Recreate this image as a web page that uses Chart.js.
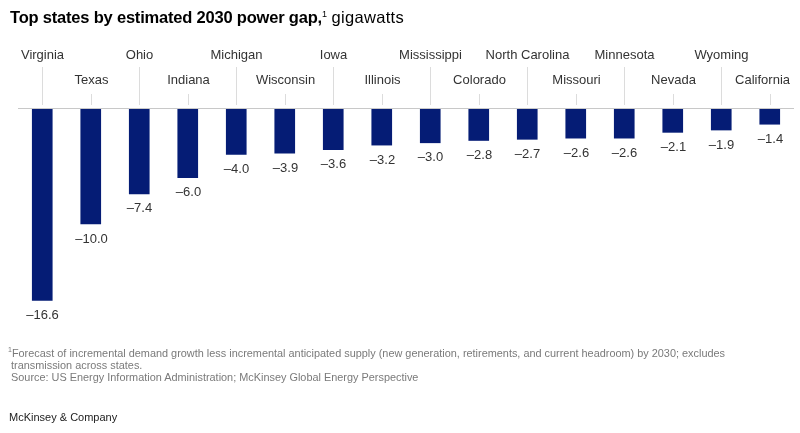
<!DOCTYPE html>
<html>
<head>
  <meta charset="utf-8">
  <title>Power gap</title>
  <script src="https://cdn.jsdelivr.net/npm/chart.js@4.4.0/dist/chart.umd.min.js"></script>
  <style>
    html, body {
      margin: 0;
      padding: 0;
      width: 800px;
      height: 433px;
      background: #fff;
      font-family: "Liberation Sans", Arial, sans-serif;
      overflow: hidden;
    }
    #wrap {
      position: relative;
      width: 800px;
      height: 433px;
    }
    #chart {
      position: absolute;
      left: 0;
      top: 0;
    }
    #title {
      position: absolute;
      left: 10px;
      top: 8px;
      font-size: 16.5px;
      color: #000;
      letter-spacing: -0.2px;
    }
    #title b { font-weight: bold; }
    #title span.g { letter-spacing: 0.3px; }
    #title sup { font-size: 9px; }
    #notes {
      position: absolute;
      left: 8px;
      top: 344px;
      font-size: 10.9px;
      line-height: 12.3px;
      color: #7a7a7a;
    }
    #brand {
      position: absolute;
      left: 9px;
      top: 411px;
      font-size: 11px;
      color: #222;
    }
  </style>
</head>
<body>
  <div id="wrap">
    <canvas id="chart" width="800" height="433"></canvas>
    <div id="title"><b>Top states by estimated 2030 power gap,</b><sup>1</sup><span class="g"> gigawatts</span></div>
    <div id="notes">
      <sup style="font-size:7px">1</sup>Forecast of incremental demand growth less incremental anticipated supply (new generation, retirements, and current headroom) by 2030; excludes<br>
      &nbsp;transmission across states.<br>
      &nbsp;Source: US Energy Information Administration; McKinsey Global Energy Perspective
    </div>
    <div id="brand">McKinsey &amp; Company</div>
  </div>
  <script>
    const states = ["Virginia", "Texas", "Ohio", "Indiana", "Michigan", "Wisconsin", "Iowa", "Illinois",
      "Mississippi", "Colorado", "North Carolina", "Missouri", "Minnesota", "Nevada", "Wyoming", "California"];
    const gapValues = [-16.6, -10.0, -7.4, -6.0, -4.0, -3.9, -3.6, -3.2, -3.0, -2.8, -2.7, -2.6, -2.6, -2.1, -1.9, -1.4];

    function fmt(v){
      return "\u2013" + Math.abs(v).toFixed(1);
    }

    const decorPlugin = {
      id: "decor",
      afterDatasetsDraw(chart){
        const ctx = chart.ctx;
        const x = chart.scales.x;
        const y = chart.scales.y;
        const zero = y.getPixelForValue(0);
        ctx.save();
        // zero line
        ctx.strokeStyle = "#c8c8c8";
        ctx.lineWidth = 1;
        ctx.beginPath();
        ctx.moveTo(chart.chartArea.left, zero + 0.5);
        ctx.lineTo(chart.chartArea.right, zero + 0.5);
        ctx.stroke();
        ctx.font = "13px 'Liberation Sans', Arial, sans-serif";
        ctx.textAlign = "center";
        ctx.textBaseline = "middle";
        states.forEach((s, i) => {
          const cx = Math.round(x.getPixelForValue(i)) + 0.5;
          const top = i % 2 === 0 ? 67 : 94;
          const labY = i % 2 === 0 ? 55 : 80;
          ctx.strokeStyle = "#dcdcdc";
          ctx.beginPath();
          ctx.moveTo(cx, top);
          ctx.lineTo(cx, zero - 3);
          ctx.stroke();
          ctx.fillStyle = "#333";
          // keep labels inside the right edge
          const w = ctx.measureText(s).width;
          const lx = Math.min(cx, 790 - w / 2);
          ctx.fillText(s, lx, labY);
          const end = y.getPixelForValue(gapValues[i]);
          ctx.fillStyle = "#333";
          ctx.fillText(fmt(gapValues[i]), cx, end + 15);
        });
        ctx.restore();
      }
    };

    new Chart(document.getElementById("chart").getContext("2d"), {
      type: "bar",
      data: {
        labels: states,
        datasets: [{
          data: gapValues,
          backgroundColor: "#051c75",
          barThickness: 20,
          borderWidth: 0
        }]
      },
      options: {
        responsive: false,
        animation: false,
        devicePixelRatio: 1,
        layout: { padding: { left: 18, right: 6, top: 108, bottom: 103 } },
        scales: {
          x: { display: false, offset: true, grid: { display: false } },
          y: { display: false, min: -19.14, max: 0 }
        },
        plugins: {
          legend: { display: false },
          tooltip: { enabled: false }
        }
      },
      plugins: [decorPlugin]
    });
  </script>
</body>
</html>
